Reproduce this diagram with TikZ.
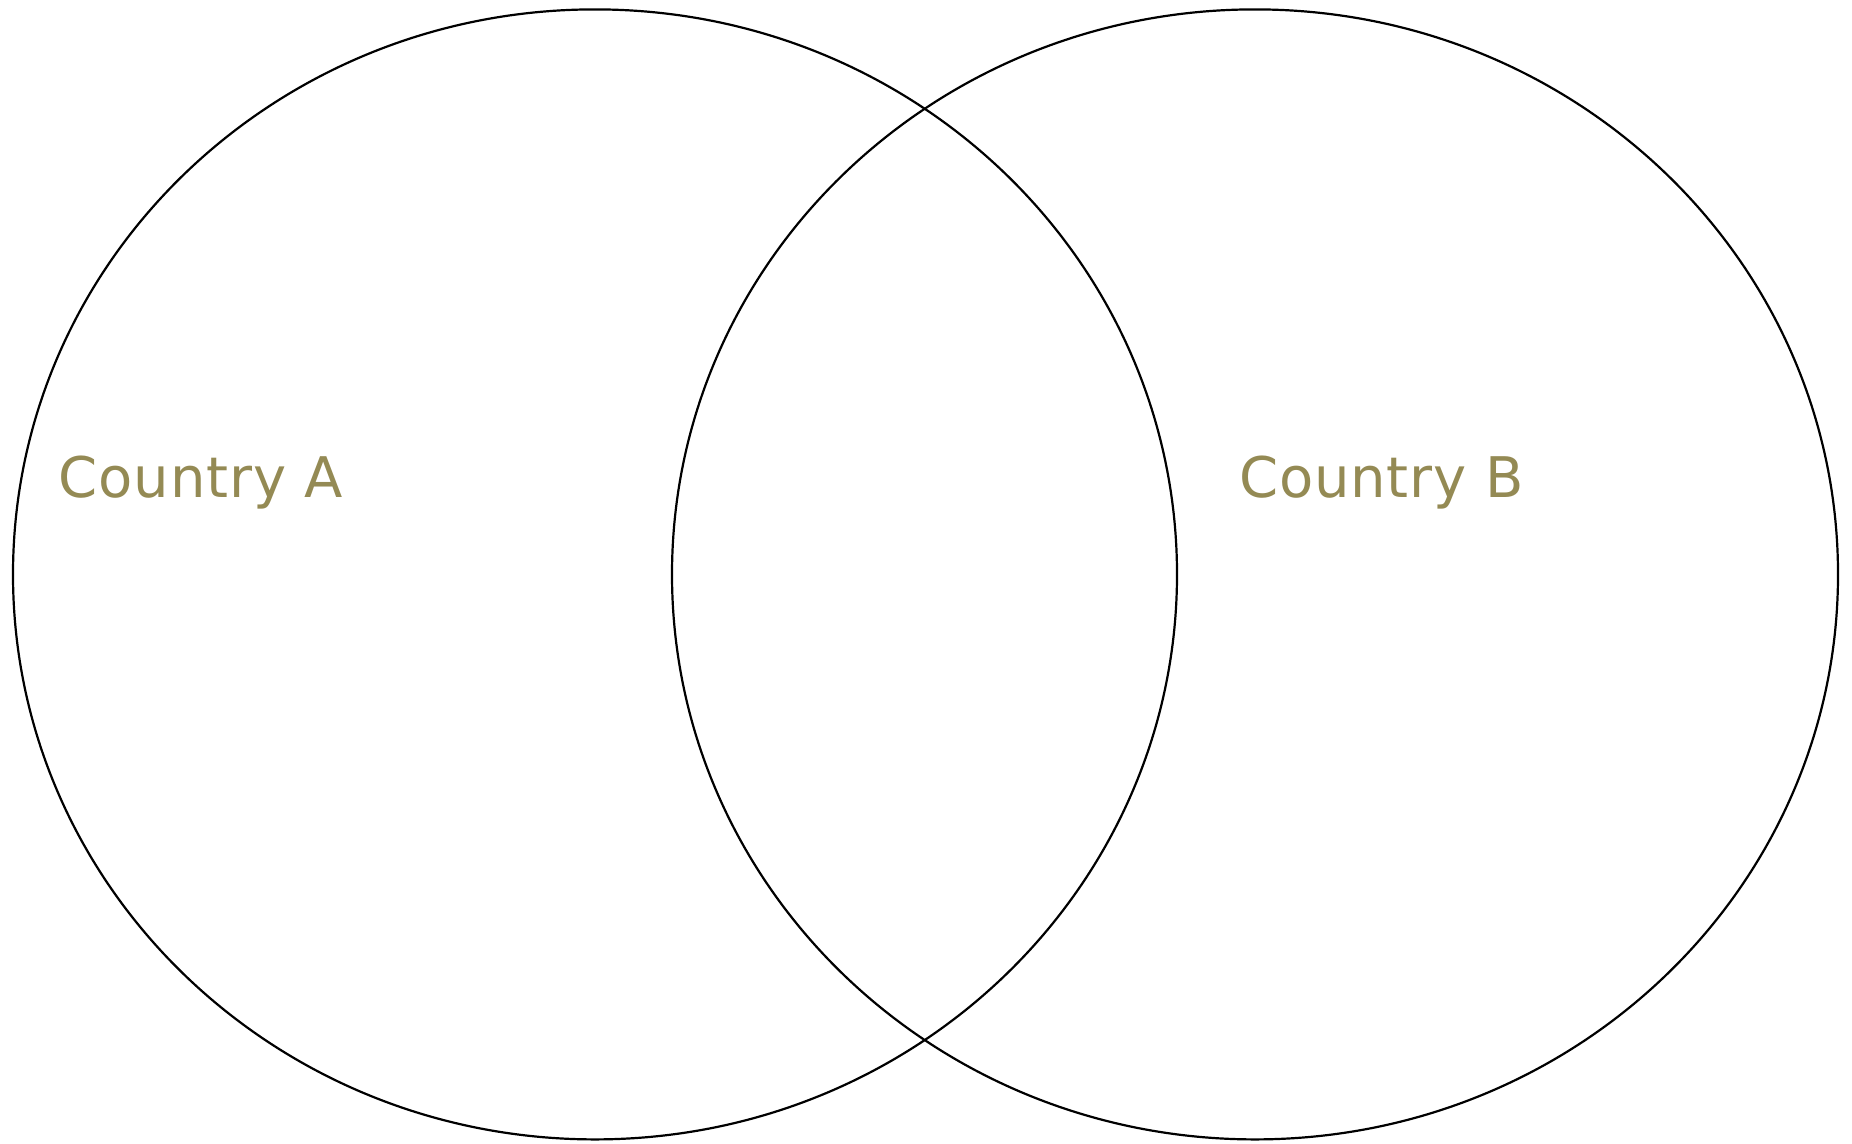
\documentclass[tikz,border=0pt]{standalone}
\usepackage{fontspec}
\newfontfamily\labelfont[LetterSpace=1.5]{DejaVu Sans}
\definecolor{olivetext}{HTML}{948A54}
\begin{document}
\begin{tikzpicture}[x=1pt,y=-1pt,
  ring/.style={draw=black,line width=2.2pt},
  country/.style={text=olivetext,font=\labelfont\fontsize{56}{64}\selectfont,inner sep=0pt,anchor=base west}]
\useasboundingbox (0,0) rectangle (1852,1143);
\draw[ring] (595,574.4) ellipse [x radius=582, y radius=565];
\draw[ring] (1255,574.4) ellipse [x radius=583, y radius=565];
\node[country] (ca) at (58.5,497) {Country A};
\node[country] (cb) at (1239,497) {Country B};
\end{tikzpicture}
\end{document}
